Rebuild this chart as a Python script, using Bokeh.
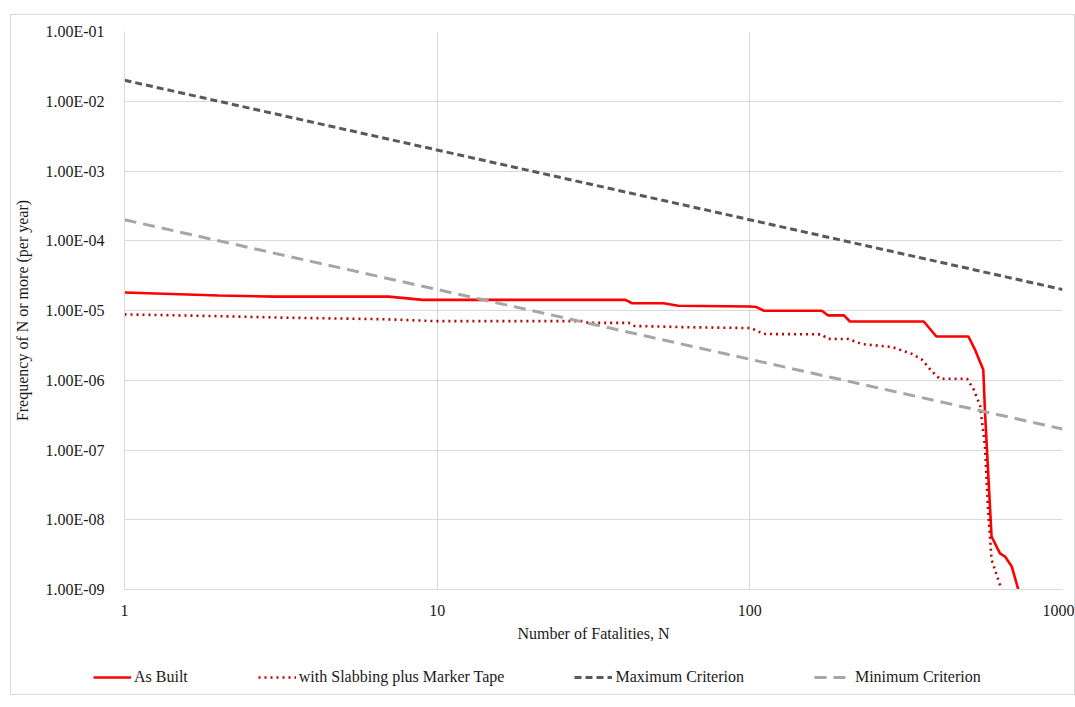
from bokeh.plotting import figure
from bokeh.layouts import column, row
from bokeh.models import (Range1d, FixedTicker, CustomJSTickFormatter, Legend, LegendItem)
from bokeh.embed import file_html
from bokeh.resources import INLINE

# ---- data ----
as_built_n = [1, 2, 3, 7, 9, 40, 42, 53, 59, 100, 105, 111, 170, 178, 200, 209,
              360, 395, 500, 524, 558, 565, 593, 631, 655, 688, 722]
as_built_f = [1.81e-5, 1.64e-5, 1.58e-5, 1.58e-5, 1.42e-5, 1.42e-5, 1.27e-5, 1.27e-5,
              1.17e-5, 1.14e-5, 1.12e-5, 9.9e-6, 9.9e-6, 8.5e-6, 8.5e-6, 6.95e-6,
              6.95e-6, 4.24e-6, 4.24e-6, 2.8e-6, 1.41e-6, 3.57e-7, 5.75e-9, 3.3e-9,
              2.97e-9, 2.14e-9, 1.0e-9]

slab_n = [1, 2, 3.2, 6.8, 9.8, 29, 30.6, 41, 42.7, 64, 101, 104, 111, 169, 178, 207,
          228, 285, 330, 355, 380, 405, 495, 519, 545, 565, 577, 593, 638]
slab_f = [8.8e-6, 8.3e-6, 7.9e-6, 7.5e-6, 7.05e-6, 7.05e-6, 6.65e-6, 6.65e-6, 6.0e-6,
          5.75e-6, 5.6e-6, 5.25e-6, 4.6e-6, 4.55e-6, 3.92e-6, 3.9e-6, 3.3e-6, 3.0e-6,
          2.39e-6, 1.98e-6, 1.38e-6, 1.05e-6, 1.05e-6, 7.5e-7, 4.33e-7, 1.15e-7,
          1.58e-8, 2.7e-9, 1.0e-9]

crit_n = [1, 1000]
max_crit_f = [2e-2, 2e-5]
min_crit_f = [2e-4, 2e-7]

x_ticks = [1, 10, 100, 1000]
y_ticks = [1e-9, 1e-8, 1e-7, 1e-6, 1e-5, 1e-4, 1e-3, 1e-2, 1e-1]

series_labels = ["As Built", "with Slabbing plus Marker Tape",
                 "Maximum Criterion", "Minimum Criterion"]

FONT = "Liberation Serif"
FS = "16px"
GRID = "#d9d9d9"
TXT = "#1a1a1a"

STYLES = [
    dict(line_color="#ff0000", line_width=2.6),
    dict(line_color="#c00000", line_width=2.6, line_dash="2 4"),
    dict(line_color="#595959", line_width=3, line_dash="7 4"),
    dict(line_color="#a6a6a6", line_width=3, line_dash="12 7"),
]
SERIES = [(as_built_n, as_built_f), (slab_n, slab_f),
          (crit_n, max_crit_f), (crit_n, min_crit_f)]

p = figure(frame_width=938, frame_height=558, x_axis_type="log", y_axis_type="log",
           x_range=Range1d(1, 1000), y_range=Range1d(1e-9, 1e-1),
           output_backend="svg", toolbar_location=None,
           min_border_left=110, min_border_right=12, min_border_top=16,
           min_border_bottom=60)
p.outline_line_color = None
p.background_fill_color = "white"
p.border_fill_color = "white"

for (xs, ys), st in zip(SERIES, STYLES):
    p.line(xs, ys, **st)

for ax in (p.xaxis[0], p.yaxis[0]):
    ax.axis_line_color = GRID
    ax.major_tick_line_color = None
    ax.minor_tick_line_color = None
    ax.major_label_text_font = FONT
    ax.major_label_text_font_size = FS
    ax.major_label_text_color = TXT
    ax.axis_label_text_font = FONT
    ax.axis_label_text_font_size = FS
    ax.axis_label_text_font_style = "normal"
    ax.axis_label_text_color = TXT

p.xaxis.ticker = FixedTicker(ticks=x_ticks, minor_ticks=[])
p.yaxis.ticker = FixedTicker(ticks=y_ticks, minor_ticks=[])
p.xaxis.formatter = CustomJSTickFormatter(code="return String(Math.round(tick));")
p.yaxis.formatter = CustomJSTickFormatter(code="""
const e = Math.floor(Math.log10(tick) + 1e-9);
const m = tick / Math.pow(10, e);
const a = Math.abs(e);
return m.toFixed(2) + 'E' + (e < 0 ? '-' : '+') + (a < 10 ? '0' + a : '' + a);
""")
p.xaxis.axis_label = "Number of Fatalities, N"
p.yaxis.axis_label = "Frequency of N or more (per year)"
p.xaxis.major_label_standoff = 9
p.yaxis.major_label_standoff = 14
p.xaxis.axis_label_standoff = 6
p.yaxis.axis_label_standoff = 11

p.xgrid.grid_line_color = GRID
p.ygrid.grid_line_color = GRID
p.xgrid.minor_grid_line_color = None
p.ygrid.minor_grid_line_color = None

# ---- legend strip (a separate, axis-less figure below the chart) ----
leg = figure(width=1060, height=45, x_range=Range1d(-10, -5), y_range=Range1d(-10, -5),
             output_backend="svg", toolbar_location=None, min_border=0,
             x_axis_location=None, y_axis_location=None)
leg.grid.visible = False
leg.outline_line_color = None
leg.background_fill_color = "white"
leg.border_fill_color = "white"
leg_renderers = [leg.line(xs, ys, **st) for (xs, ys), st in zip(SERIES, STYLES)]

legend = Legend(items=[LegendItem(label=lab, renderers=[r])
                       for lab, r in zip(series_labels, leg_renderers)],
                orientation="horizontal", location=(82, 7))
legend.label_text_font = FONT
legend.label_text_font_size = FS
legend.label_text_color = TXT
legend.glyph_width = 38
legend.label_standoff = 3
legend.spacing = 70
legend.border_line_color = None
legend.background_fill_alpha = 0
legend.margin = 0
legend.padding = 4
leg.add_layout(legend, "center")

layout = column(p, row(leg), margin=(14, 0, 0, 10), spacing=0,
                styles={"border": "1px solid #d9d9d9"})

open("out.html", "w").write(file_html(layout, INLINE))
